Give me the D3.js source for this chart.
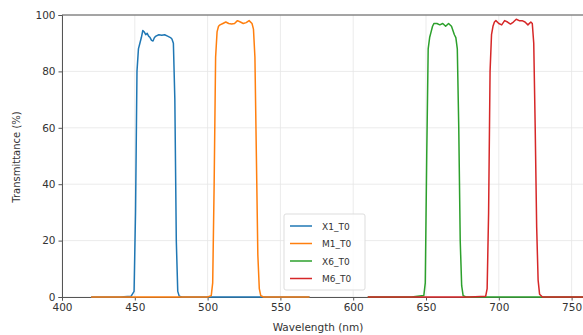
<!DOCTYPE html>
<html><head><meta charset="utf-8">
<script src="https://cdn.jsdelivr.net/npm/d3@7"></script>
<style>body{margin:0;background:#fff;}svg{display:block;font-family:"DejaVu Sans",sans-serif;}</style>
</head><body>
<svg id="c" width="583" height="335"></svg>
<script>
const seriesNames = ["X1_T0","M1_T0","X6_T0","M6_T0"];
const seriesColors = ["#1f77b4","#ff7f0e","#2ca02c","#d62728"];
const x1Wl = [420,440,447.5,449.5,450.5,451.5,452.5,453.5,454.5,455.5,456.5,457.5,458.5,459.5,460.5,461.5,462.5,463.5,464.5,466.5,468.5,470.5,472.5,474.5,475.5,476.5,477.5,478.5,479.5,480.5,482.5,500,540,570];
const x1Val = [0,0,0.3,2,30,80,88,90,92,94.5,94,93,93.5,92.5,92,91,90.8,92,92.5,93,92.8,93,92.5,92,91.5,90,70,20,2,0.3,0,0,0,0];
const m1Wl = [420,500,502.5,503.5,504.5,505.5,506.5,507.5,508.5,510.5,512.5,514.5,516.5,518.5,520.5,522.5,524.5,526.5,528.5,530.5,531.5,532.5,533.5,534.5,535.5,536.5,538.5,570];
const m1Val = [0,0,0.5,5,40,85,94,96,96.5,97,97.5,97,96.8,97,98,97.5,97,97.3,98,97,95,85,50,15,3,0.5,0,0];
const x6Wl = [610,640,648.5,649.5,650.5,651.5,652.5,653.5,654.5,655.5,657.5,659.5,661.5,663.5,665.5,667.5,669.5,670.5,671.5,672.5,673.5,674.5,675.5,677.5,700,770];
const x6Val = [0,0,0.5,5,50,88,92,94,96,97,97,96.5,97,96,97,96,93,92,88,60,20,4,0.5,0,0,0];
const m6Wl = [610,680,691,692,693,694,695,696,697,698,700,702,704,706,708,710,712,714,716,718,720,722,723,724,725,726,727,728,730,770];
const m6Val = [0,0,0.3,3,30,80,93,96,97.5,98,97,96.5,98,97.5,96.8,97.5,98.5,98,98,97.5,96.5,97.5,97,90,60,25,6,1,0,0];
const xTicks = [400,450,500,550,600,650,700,750];
const yTicks = [0,20,40,60,80,100];

const svg = d3.select("#c");
const x = d3.scaleLinear().domain([400,770]).range([62,62+370*1.456]);
const y = d3.scaleLinear().domain([0,100]).range([297,15]);

// grid
svg.append("g").selectAll("line").data(xTicks).join("line")
  .attr("x1",d=>x(d)).attr("x2",d=>x(d)).attr("y1",15).attr("y2",297)
  .attr("stroke","#e6e6e6").attr("stroke-width",0.8);
svg.append("g").selectAll("line").data(yTicks).join("line")
  .attr("x1",62).attr("x2",583).attr("y1",d=>y(d)).attr("y2",d=>y(d))
  .attr("stroke","#e6e6e6").attr("stroke-width",0.8);

// axes
const xAxis = svg.append("g").attr("transform","translate(0,297)")
  .call(d3.axisBottom(x).tickValues(xTicks).tickSize(3.5).tickPadding(3));
const yAxis = svg.append("g").attr("transform","translate(62,0)")
  .call(d3.axisLeft(y).tickValues(yTicks).tickSize(3.5).tickPadding(3));
[xAxis,yAxis].forEach(a=>{
  a.select(".domain").attr("stroke","#555").attr("stroke-width",1);
  a.selectAll(".tick line").attr("stroke","#555");
  a.selectAll(".tick text").attr("font-size","10.5px").attr("fill","#333").attr("font-family","DejaVu Sans");
});
// top spine
svg.append("line").attr("x1",62).attr("x2",583).attr("y1",15).attr("y2",15).attr("stroke","#555").attr("stroke-width",1);

// lines
const data = [[x1Wl,x1Val],[m1Wl,m1Val],[x6Wl,x6Val],[m6Wl,m6Val]];
const line = d3.line().x(d=>x(d[0])).y(d=>y(d[1]));
data.forEach((s,i)=>{
  const pts = s[0].map((w,j)=>[w,s[1][j]]);
  svg.append("path").datum(pts).attr("d",line).attr("fill","none")
    .attr("stroke",seriesColors[i]).attr("stroke-width",1.5).attr("stroke-linejoin","round");
});

// labels
svg.append("text").attr("x",318).attr("y",331).attr("text-anchor","middle")
  .attr("font-size","10.5px").attr("fill","#333").text("Wavelength (nm)");
svg.append("text").attr("transform","translate(20,157) rotate(-90)").attr("text-anchor","middle")
  .attr("font-size","10px").attr("fill","#333").text("Transmittance (%)");

// legend
const lg = svg.append("g");
lg.append("rect").attr("x",284).attr("y",214).attr("width",81).attr("height",76)
  .attr("fill","#fff").attr("fill-opacity",0.85).attr("stroke","#ddd").attr("rx",2);
seriesNames.forEach((n,i)=>{
  const yy = 226 + i*17.5;
  lg.append("line").attr("x1",290).attr("x2",312).attr("y1",yy).attr("y2",yy)
    .attr("stroke",seriesColors[i]).attr("stroke-width",1.5);
  lg.append("text").attr("x",322).attr("y",yy+3.5).attr("font-size","9px").attr("fill","#333").text(n);
});
</script>
</body></html>
